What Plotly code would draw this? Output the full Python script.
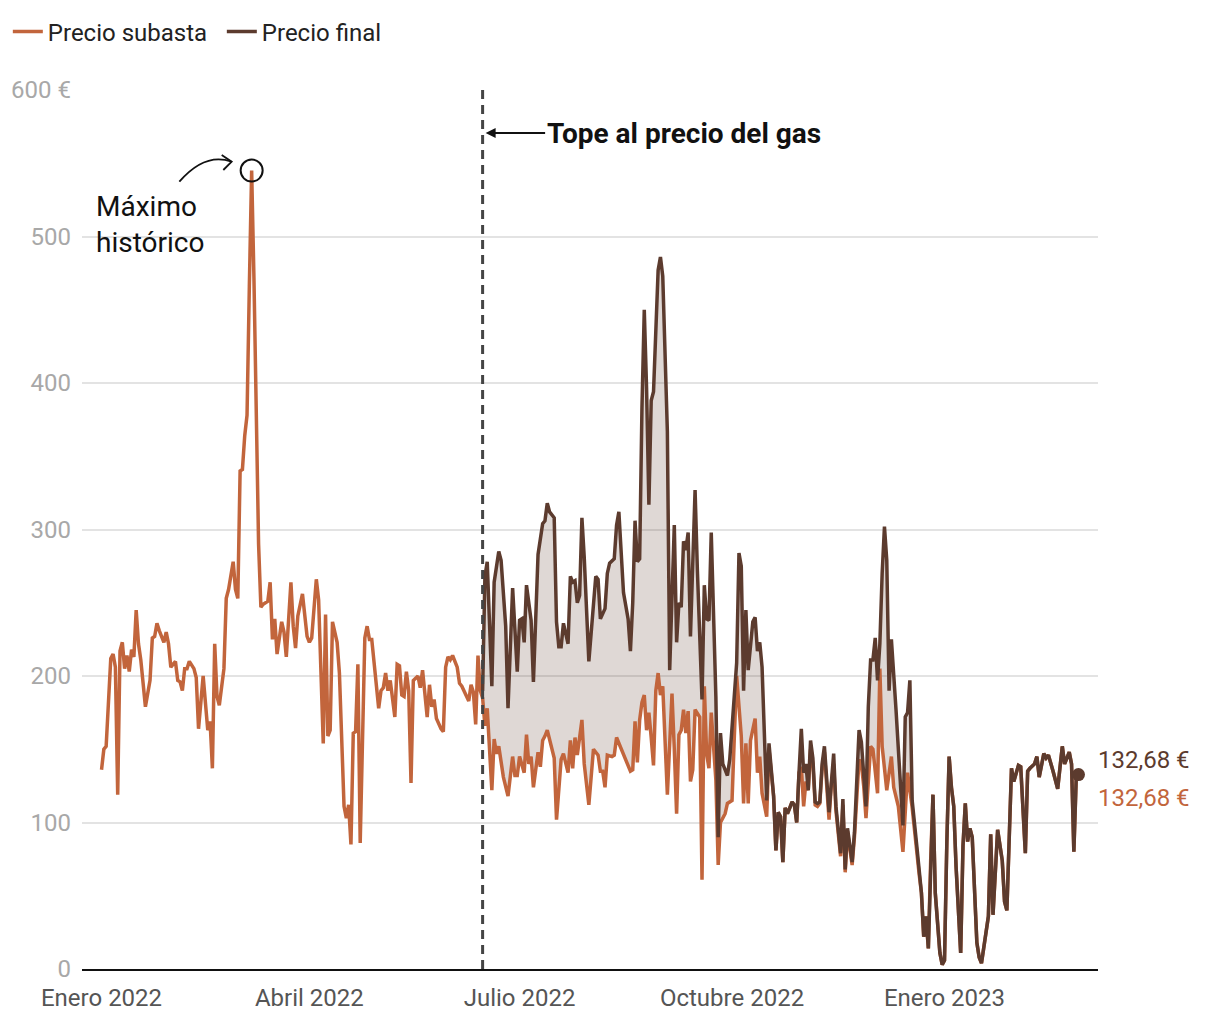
import plotly.graph_objects as go
import pandas as pd

# ---------------- DATA ----------------
# day offsets from 1 January 2022
dias_subasta = [0, 1, 2, 4, 5, 6, 7, 8, 9, 10, 11, 12, 13, 14, 15, 16, 17, 19, 21, 22, 23, 24, 25, 27, 28, 29, 30, 32, 33, 34, 35, 36, 37, 38, 40, 41, 42, 44, 46, 47, 48, 49, 50, 51, 53, 54, 55, 57, 58, 59, 60, 61, 62, 63, 64, 65, 66, 67, 68, 69, 70, 72, 73, 74, 75, 76, 78, 79, 80, 82, 83, 84, 85, 87, 89, 90, 91, 93, 94, 96, 97, 98, 99, 100, 102, 103, 105, 106, 107, 108, 109, 110, 111, 112, 114, 115, 116, 117, 118, 120, 121, 122, 123, 124, 125, 126, 127, 128, 129, 130, 131, 132, 133, 134, 135, 137, 138, 139, 140, 141, 142, 143, 144, 145, 147, 148, 149, 150, 151, 152, 154, 155, 156, 158, 159, 160, 161, 162, 163, 164, 165, 166, 167, 169, 170, 171, 172, 174, 176, 178, 179, 180, 181, 183, 184, 185, 186, 187, 189, 190, 191, 192, 193, 196, 197, 199, 200, 202, 203, 204, 205, 206, 208, 209, 211, 213, 214, 215, 216, 217, 218, 219, 221, 222, 223, 225, 227, 228, 229, 230, 231, 232, 233, 234, 235, 236, 237, 238, 239, 240, 241, 242, 243, 245, 247, 248, 249, 250, 251, 252, 253, 254, 255, 256, 257, 259, 260, 261, 262, 263, 264, 266, 267, 268, 270, 271, 273, 274, 275, 277, 278, 279, 280, 281, 283, 284, 285, 286, 288, 289, 291, 292, 293, 294, 295, 296, 297, 298, 299, 300, 301, 302, 303, 304, 305, 306, 307, 308, 309, 310, 311, 312, 313, 315, 316, 317, 318, 320, 321, 322, 323, 324, 325, 326, 328, 329, 330, 331, 332, 333, 334, 336, 337, 338, 340, 342, 343, 345, 347, 349, 351, 353, 354, 355, 356, 357, 358, 359, 360, 361, 363, 364, 365, 366, 367, 368, 369, 370, 372, 373, 374, 375, 376, 377, 378, 379, 380, 381, 384, 385, 386, 387, 388, 390, 391, 392, 394, 395, 396, 397, 398, 400, 401, 402, 404, 405, 406, 408, 409, 410, 412, 414, 416, 417, 419, 420, 421, 422, 423]
precio_subasta = [136, 150, 152, 212, 215, 206, 119, 217, 223, 205, 214, 203, 218, 213, 245, 222, 211, 179, 197, 226, 227, 236, 231, 223, 230, 222, 206, 210, 197, 196, 190, 205, 205, 210, 205, 199, 164, 200, 163, 169, 137, 222, 186, 180, 205, 253, 259, 278, 259, 253, 340, 341, 364, 378, 466, 545, 471, 361, 290, 247, 249, 251, 264, 225, 239, 215, 237, 230, 213, 264, 234, 219, 241, 256, 227, 223, 226, 266, 252, 154, 242, 159, 163, 237, 223, 202, 111, 103, 112, 85, 161, 162, 208, 86, 226, 234, 225, 225, 209, 178, 190, 192, 202, 190, 197, 185, 172, 208, 207, 187, 186, 203, 190, 127, 197, 200, 192, 204, 186, 172, 194, 179, 184, 171, 164, 162, 206, 213, 211, 214, 206, 195, 193, 186, 183, 194, 189, 167, 214, 190, 185, 166, 178, 122, 157, 147, 152, 131, 118, 145, 132, 132, 145, 134, 160, 140, 145, 124, 148, 138, 156, 159, 163, 144, 102, 143, 147, 134, 156, 137, 158, 146, 170, 140, 112, 150, 148, 146, 135, 135, 124, 146, 145, 146, 158, 150, 142, 139, 135, 136, 169, 141, 170, 182, 187, 163, 175, 158, 139, 190, 202, 187, 193, 119, 188, 150, 106, 160, 163, 177, 161, 176, 128, 136, 177, 172, 61, 193, 147, 137, 175, 129, 71, 100, 106, 113, 115, 159, 200, 159, 113, 154, 113, 156, 171, 134, 145, 120, 104, 150, 118, 81, 107, 104, 73, 110, 106, 110, 114, 112, 100, 134, 138, 111, 128, 122, 150, 140, 112, 111, 113, 137, 148, 102, 126, 140, 108, 77, 112, 66, 94, 82, 71, 90, 143, 140, 125, 103, 130, 152, 150, 120, 205, 152, 122, 145, 124, 111, 80, 134, 110, 76, 65, 52, 22, 36, 14, 74, 119, 52, 11, 3, 6, 86, 145, 124, 111, 70, 11, 84, 113, 87, 96, 90, 49, 18, 8, 4, 36, 92, 37, 72, 95, 74, 46, 40, 137, 128, 134, 139, 138, 79, 135, 137, 140, 145, 131, 147, 144, 146, 135, 123, 152, 140, 148, 140, 80, 129, 132.68]

# final price where it differs from the auction price (15 June - 19 December 2022)
dias_final = [165, 166, 167, 169, 170, 172, 173, 175, 176, 178, 180, 181, 182, 183, 184, 186, 187, 189, 191, 192, 193, 194, 196, 197, 198, 199, 200, 202, 203, 204, 205, 206, 207, 208, 209, 211, 214, 215, 216, 217, 218, 219, 220, 222, 223, 224, 225, 226, 228, 229, 230, 231, 232, 233, 234, 235, 236, 237, 238, 239, 241, 242, 243, 245, 246, 247, 248, 249, 250, 251, 252, 253, 254, 255, 256, 257, 258, 260, 261, 262, 263, 264, 266, 267, 268, 269, 271, 272, 275, 276, 277, 278, 279, 280, 282, 283, 284, 285, 286, 288, 289, 291, 292, 293, 294, 295, 296, 297, 298, 299, 300, 301, 302, 303, 304, 305, 306, 307, 308, 309, 310, 311, 312, 313, 315, 316, 317, 318, 320, 321, 322, 323, 324, 325, 326, 328, 329, 330, 331, 332, 333, 334, 335, 336, 337, 338, 339, 340, 341, 342, 343, 344, 346, 347, 348, 349, 350, 351, 353]
precio_final = [190, 268, 278, 193, 264, 285, 279, 234, 178, 260, 203, 238, 239, 223, 262, 238, 196, 283, 304, 306, 318, 312, 308, 237, 220, 220, 236, 222, 268, 264, 265, 250, 255, 308, 281, 210, 268, 266, 239, 242, 246, 270, 277, 280, 303, 312, 281, 257, 239, 217, 250, 306, 278, 280, 383, 450, 396, 317, 388, 394, 477, 486, 473, 367, 204, 263, 303, 223, 250, 247, 292, 286, 298, 227, 275, 327, 272, 184, 262, 239, 238, 298, 186, 90, 161, 140, 132, 143, 209, 284, 275, 190, 245, 204, 237, 240, 217, 223, 206, 115, 154, 118, 81, 107, 104, 73, 110, 106, 110, 114, 112, 100, 134, 164, 134, 140, 122, 156, 144, 114, 113, 114, 140, 152, 107, 129, 147, 111, 79, 116, 68, 96, 84, 73, 93, 163, 155, 136, 111, 179, 211, 211, 226, 197, 222, 270, 302, 279, 190, 225, 204, 177, 124, 98, 172, 175, 197, 115, 84]

dia_tope = 165  # 15 June 2022: gas price cap

y_ticks = [0, 100, 200, 300, 400, 500, 600]
y_ticktext = ["0", "100", "200", "300", "400", "500", "600 €"]
x_ticks = ["2022-01-01", "2022-04-01", "2022-07-01", "2022-10-01", "2023-01-01"]
x_ticktext = ["Enero 2022", "Abril 2022", "Julio 2022", "Octubre 2022", "Enero 2023"]

# ---------------- STYLE ----------------
NARANJA = "#c2653c"
MARRON = "#5c3b2e"
FONT = "Roboto"

inicio = pd.Timestamp("2022-01-01")
sub = pd.DataFrame({"dia": dias_subasta, "v": precio_subasta})
sub["fecha"] = inicio + pd.to_timedelta(sub["dia"], unit="D")
fin = pd.DataFrame({"dia": dias_final, "v": precio_final})
# after the compensation vanishes, the final price equals the auction price
fin = pd.concat([fin, sub.loc[sub["dia"] > fin["dia"].max(), ["dia", "v"]]], ignore_index=True)
fin["fecha"] = inicio + pd.to_timedelta(fin["dia"], unit="D")
fecha_tope = inicio + pd.Timedelta(days=dia_tope)

base = sub[sub["dia"] >= dia_tope]

fig = go.Figure()
fig.add_trace(go.Scatter(x=base["fecha"], y=base["v"], mode="lines",
                         line=dict(width=0, color=NARANJA), showlegend=False, hoverinfo="skip"))
fig.add_trace(go.Scatter(x=fin["fecha"], y=fin["v"], mode="lines", fill="tonexty",
                         fillcolor="rgba(93,58,44,0.2)", line=dict(width=0, color=MARRON),
                         showlegend=False, hoverinfo="skip"))
fig.add_trace(go.Scatter(x=sub["fecha"], y=sub["v"], mode="lines", name="Precio subasta",
                         line=dict(color=NARANJA, width=3.5)))
fig.add_trace(go.Scatter(x=fin["fecha"], y=fin["v"], mode="lines", name="Precio final",
                         line=dict(color=MARRON, width=3.5)))

# peak circle
imax = sub["v"].idxmax()
fig.add_trace(go.Scatter(x=[sub.loc[imax, "fecha"]], y=[sub.loc[imax, "v"]], mode="markers",
                         marker=dict(symbol="circle-open", size=22, color="#111", line=dict(width=2)),
                         showlegend=False, hoverinfo="skip"))
# end dot
fig.add_trace(go.Scatter(x=[fin["fecha"].iloc[-1]], y=[fin["v"].iloc[-1]], mode="markers",
                         marker=dict(size=13, color=MARRON), showlegend=False, hoverinfo="skip"))

# cap line
fig.add_shape(type="line", xref="x", yref="paper", x0=fecha_tope, x1=fecha_tope, y0=0, y1=1,
              line=dict(color="#444", width=3, dash="9px,6px"))

fig.add_annotation(x=fecha_tope, xref="x", y=0.951, yref="paper", ax=201, ay=0,
                   text="<b>Tope al precio del gas</b>", showarrow=True, arrowhead=2,
                   arrowsize=1, arrowwidth=2, arrowcolor="#111", standoff=3,
                   font=dict(family=FONT, size=28, color="#111"))

fig.add_annotation(x=0.0118, xref="paper", y=0.847, yref="paper", xanchor="left", yanchor="middle",
                   text="Máximo<br>histórico", showarrow=False, align="left",
                   font=dict(family=FONT, size=28, color="#111"))
# curved arrow to the peak
fig.add_shape(type="path", xref="paper", yref="paper",
              path="M 0.0958,0.8957 Q 0.1211,0.9295 0.1473,0.9184",
              line=dict(color="#111", width=1.8))
fig.add_shape(type="path", xref="paper", yref="paper",
              path="M 0.1375,0.9260 L 0.1473,0.9184 L 0.1391,0.9090",
              line=dict(color="#111", width=1.8))

# end labels
txt_fin = f"{fin['v'].iloc[-1]:.2f}".replace(".", ",") + " €"
txt_sub = f"{sub['v'].iloc[-1]:.2f}".replace(".", ",") + " €"
fig.add_annotation(x=fin["fecha"].iloc[-1], y=fin["v"].iloc[-1], xanchor="left", yanchor="middle",
                   xshift=18, yshift=15, text=txt_fin, showarrow=False,
                   font=dict(family=FONT, size=24, color=MARRON))
fig.add_annotation(x=sub["fecha"].iloc[-1], y=sub["v"].iloc[-1], xanchor="left", yanchor="middle",
                   xshift=18, yshift=-23, text=txt_sub, showarrow=False,
                   font=dict(family=FONT, size=24, color=NARANJA))

fig.update_layout(
    width=1220, height=1020,
    margin=dict(l=82, r=122, t=90, b=51, autoexpand=False),
    paper_bgcolor="white", plot_bgcolor="white",
    font=dict(family=FONT, size=24, color="#222"),
    showlegend=True,
    legend=dict(orientation="h", x=-0.073, y=1.066, xanchor="left", yanchor="middle",
                traceorder="normal", entrywidth=169, entrywidthmode="pixels",
                font=dict(family=FONT, size=24, color="#222"), itemwidth=30,
                bgcolor="rgba(0,0,0,0)", tracegroupgap=0),
    xaxis=dict(range=["2021-12-23 13:00", "2023-03-08 11:00"], tickvals=x_ticks, ticktext=x_ticktext,
               showgrid=False, showline=True, linecolor="#111", linewidth=2, ticks="",
               automargin=False, ticklabelstandoff=6,
               tickfont=dict(family=FONT, size=24, color="#555"), zeroline=False),
    yaxis=dict(range=[0, 600], tickvals=y_ticks, ticktext=y_ticktext, showgrid=True,
               gridcolor="#e3e3e3", gridwidth=1.5, zeroline=False, showline=False, ticks="",
               automargin=False,
               ticklabelstandoff=10, tickfont=dict(family=FONT, size=24, color="#a8a8a8")),
    hovermode=False,
)

fig.write_html("out.html", config={"displayModeBar": False},
               post_script="document.body.style.margin='0';")
